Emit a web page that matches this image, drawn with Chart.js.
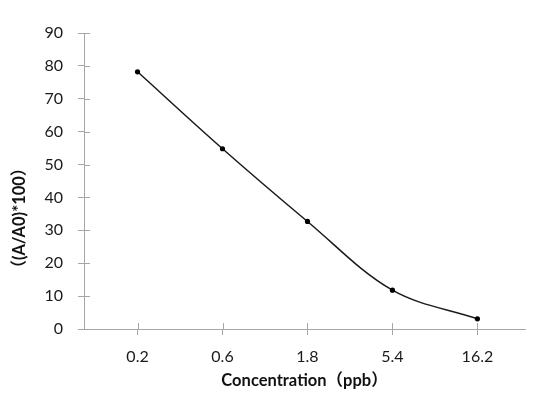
<!DOCTYPE html>
<html>
<head>
<meta charset="utf-8">
<script src="https://cdn.jsdelivr.net/npm/chart.js@4/dist/chart.umd.min.js"></script>
<style>
  html, body { margin: 0; padding: 0; background: #fff; }
  #wrap { width: 537px; height: 403px; }
</style>
</head>
<body>
<div id="wrap"><canvas id="chart"></canvas></div>
<script>
const concLabels = ['0.2', '0.6', '1.8', '5.4', '16.2'];
const ratioValues = [78.2, 54.8, 32.7, 11.8, 3.1];
const yTitle = '（(A/A0)*100）\u3000\u3000\u3000\u3000\u3000';
const xTitle = 'Concentration（ppb）';

const axisGray = '#a6a6a6';
const fontFam = 'Lato, "Noto Sans CJK SC", sans-serif';

// ticks in the reference cross the axis line, so draw the inner half too
const crossTicks = {
    id: 'crossTicks',
    afterDraw(chart) {
        const c = chart.ctx;
        const area = chart.chartArea;
        const xs = chart.scales.x, ys = chart.scales.y;
        c.save();
        c.strokeStyle = axisGray;
        c.lineWidth = 1;
        c.beginPath();
        ys.ticks.forEach(t => {
            const py = Math.round(ys.getPixelForValue(t.value)) + 0.5;
            c.moveTo(area.left, py);
            c.lineTo(area.left + 6, py);
        });
        xs.ticks.forEach(t => {
            const px = Math.round(xs.getPixelForValue(t.value)) + 0.5;
            c.moveTo(px, area.bottom);
            c.lineTo(px, area.bottom - 6);
        });
        c.stroke();
        c.restore();
    }
};

new Chart(document.getElementById('chart').getContext('2d'), {
    type: 'line',
    data: {
        datasets: [{
            data: ratioValues.map((v, i) => ({ x: i, y: v })),
            borderColor: '#1a1a1a',
            borderWidth: 1.5,
            backgroundColor: '#000',
            pointRadius: 2.6,
            pointBorderWidth: 0,
            tension: 0.35,
            fill: false
        }]
    },
    options: {
        responsive: true,
        maintainAspectRatio: false,
        animation: false,
        layout: { padding: { top: 33, right: 12, left: 0, bottom: 0 } },
        plugins: {
            legend: { display: false },
            tooltip: { enabled: false }
        },
        scales: {
            x: {
                type: 'linear',
                min: -0.63,
                max: 4.56,
                afterBuildTicks: s => { s.ticks = concLabels.map((_, i) => ({ value: i })); },
                afterFit: s => { s.height = 74; },
                border: { display: true, color: axisGray, width: 1 },
                grid: { drawOnChartArea: false, drawTicks: true, tickLength: 6, color: axisGray },
                ticks: {
                    padding: 12,
                    color: '#1a1a1a',
                    font: { family: fontFam, size: 16 },
                    maxRotation: 0,
                    callback: v => concLabels[v]
                },
                title: {
                    display: true,
                    text: xTitle,
                    color: '#111',
                    font: { family: fontFam, size: 16.5, weight: 'bold' },
                    padding: { top: 0, bottom: 12 }
                }
            },
            y: {
                min: 0,
                max: 90,
                afterFit: s => { s.width = 84; },
                border: { display: true, color: axisGray, width: 1 },
                grid: { drawOnChartArea: false, drawTicks: true, tickLength: 6, color: axisGray },
                ticks: {
                    stepSize: 10,
                    padding: 15,
                    color: '#1a1a1a',
                    font: { family: fontFam, size: 16 }
                },
                title: {
                    display: true,
                    text: yTitle,
                    color: '#111',
                    font: { family: fontFam, size: 16.5, weight: 'bold' },
                    padding: { top: 10, bottom: 0 }
                }
            }
        }
    },
    plugins: [crossTicks]
});
</script>
</body>
</html>
